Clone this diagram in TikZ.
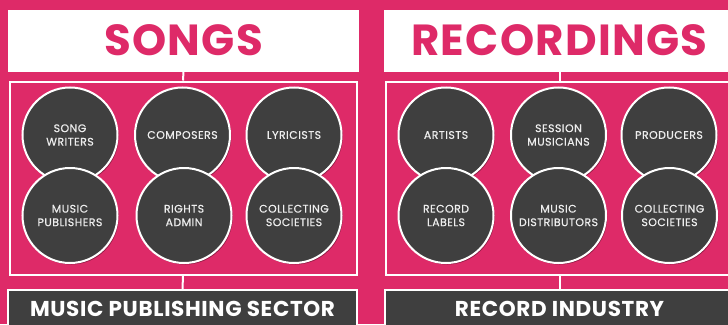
\documentclass[tikz,border=0pt]{standalone}
\usepackage{fontspec}
\setmainfont{Poppins}
\newfontfamily\rolefont[LetterSpace=4,FakeBold=0.5]{Poppins}
\newfontfamily\headfont[LetterSpace=3]{Poppins}
\usetikzlibrary{shadows}
\definecolor{pinkbg}{RGB}{222,42,104}
\definecolor{darkfill}{RGB}{63,63,63}
\definecolor{lighttext}{RGB}{238,238,238}
\tikzset{
  titlebox/.style={draw=white, line width=1pt, fill=white, rectangle, minimum width=350pt, minimum height=61pt, inner sep=0pt,
    text=pinkbg, font=\headfont\fontsize{43.5}{43.5}\selectfont\bfseries, text height=30.5pt, text depth=0pt},
  innerbox/.style={draw=white, line width=2pt, fill=pinkbg, rectangle, minimum width=347pt, minimum height=193pt, inner sep=0pt},
  basebox/.style={draw=white, line width=1.5pt, fill=darkfill, rectangle, minimum width=349pt, minimum height=50pt, inner sep=0pt,
    text=white, font=\headfont\fontsize{21.5}{21.5}\selectfont\bfseries, text height=15pt, text depth=12pt},
  role/.style={circle, draw=white, line width=2pt, fill=darkfill, minimum size=95pt, inner sep=0pt,
    text=lighttext, align=center, font=\rolefont\fontsize{11}{13.5}\selectfont,
    drop shadow={shadow xshift=1.2pt, shadow yshift=-1.5pt, opacity=0.35, fill=black}},
  link/.style={draw=white, line width=2pt}
}
\begin{document}
\begin{tikzpicture}[x=1pt,y=-1pt]
\useasboundingbox (0,0) rectangle (728,324);
\fill[pinkbg] (0,0) rectangle (728,324);
\begin{scope}
\clip (0,0) rectangle (728,324);
% left panel
\node[titlebox] (songs) at (183.5,40.5) {SONGS};
\node[innerbox] (sbox) at (183,178) {};
\node[basebox] (sector) at (182.5,315) {MUSIC PUBLISHING SECTOR};
\draw[link] (songs.south) -- (sbox.north);
\draw[link] (sbox.south) -- (sector.north);
\node[role] (sw) at (70,135) {SONG\\WRITERS};
\node[role] (comp) at (182.5,135) {COMPOSERS};
\node[role] (lyr) at (294,135) {LYRICISTS};
\node[role] (mp) at (70,215.5) {MUSIC\\PUBLISHERS};
\node[role] (ra) at (184,215.5) {RIGHTS\\ADMIN};
\node[role] (cs1) at (294,215.5) {COLLECTING\\SOCIETIES};
% right panel
\node[titlebox] (rec) at (559.5,40.5) {RECORDINGS};
\node[innerbox] (rbox) at (559.5,178) {};
\node[basebox] (ind) at (559.5,315) {RECORD INDUSTRY};
\draw[link] (rec.south) -- (rbox.north);
\draw[link] (rbox.south) -- (ind.north);
\node[role] (art) at (446,135) {ARTISTS};
\node[role] (sm) at (558.5,135) {SESSION\\MUSICIANS};
\node[role] (prod) at (669,135) {PRODUCERS};
\node[role] (rl) at (446,215.5) {RECORD\\LABELS};
\node[role] (md) at (558.5,215.5) {MUSIC\\DISTRIBUTORS};
\node[role] (cs2) at (669.5,215.5) {COLLECTING\\SOCIETIES};
\end{scope}
\end{tikzpicture}
\end{document}
